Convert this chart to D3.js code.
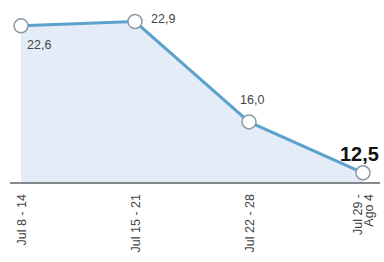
<!DOCTYPE html>
<html>
<head>
<meta charset="utf-8">
<script src="https://d3js.org/d3.v7.min.js"></script>
<style>
  body { margin: 0; background: #fff; }
  text { font-family: "Liberation Sans Narrow", "Arial Narrow", "Liberation Sans", sans-serif; }
</style>
</head>
<body>
<svg id="chart" width="384" height="262"></svg>
<script>
var weeks = ["Jul 8 - 14", "Jul 15 - 21", "Jul 22 - 28", "Jul 29 -|Ago 4"];
var values = [22.6, 22.9, 16.0, 12.5];
var valueLabels = ["22,6", "22,9", "16,0", "12,5"];

var svg = d3.select("#chart");

var x = d3.scalePoint().domain(weeks).range([21, 363]);
var y = d3.scaleLinear().domain([11.8, 22.9]).range([183, 21.5]);

var data = weeks.map(function(w, i) { return { week: w, value: values[i], label: valueLabels[i] }; });

// shaded area
var area = d3.area()
  .x(d => x(d.week))
  .y0(y(11.8))
  .y1(d => y(d.value));
svg.append("path").datum(data)
  .attr("d", area)
  .attr("fill", "#e4ecf8");

// baseline
svg.append("line")
  .attr("x1", 10).attr("x2", 380)
  .attr("y1", y(11.8)).attr("y2", y(11.8))
  .attr("stroke", "#5f6266").attr("stroke-width", 1.6);

// line
var line = d3.line().x(d => x(d.week)).y(d => y(d.value));
svg.append("path").datum(data)
  .attr("d", line)
  .attr("fill", "none")
  .attr("stroke", "#5ba2cc")
  .attr("stroke-width", 3);

svg.selectAll("circle.pt").data(data).enter().append("circle")
  .attr("class", "pt")
  .attr("cx", d => x(d.week))
  .attr("cy", d => y(d.value))
  .attr("r", 7)
  .attr("fill", "#fff")
  .attr("stroke", "#8a9aa6")
  .attr("stroke-width", 1.5);

// value labels
var offs = [[6, 23], [16, 1], [-9, -18], [-23, -12]];
svg.selectAll("text.val").data(data).enter().append("text")
  .attr("class", "val")
  .attr("x", (d, i) => x(d.week) + offs[i][0])
  .attr("y", (d, i) => y(d.value) + offs[i][1])
  .attr("fill", (d, i) => i === 3 ? "#111" : "#444")
  .attr("font-size", (d, i) => i === 3 ? 20 : 12.5)
  .attr("font-weight", (d, i) => i === 3 ? "bold" : "normal")
  .text(d => d.label);

// x labels, rotated
var xl = svg.selectAll("g.xl").data(weeks).enter().append("g")
  .attr("class", "xl")
  .attr("transform", d => "translate(" + x(d) + ",194) rotate(-90)");
xl.each(function(d) {
  var parts = d.split("|");
  var g = d3.select(this);
  parts.forEach(function(p, j) {
    var dy = parts.length === 1 ? 4.5 : (j === 0 ? -1 : 10);
    g.append("text")
      .attr("x", 0)
      .attr("y", dy)
      .attr("text-anchor", "end")
      .attr("fill", "#444")
      .attr("font-size", 12.5)
      .text(p);
  });
});
</script>
</body>
</html>
